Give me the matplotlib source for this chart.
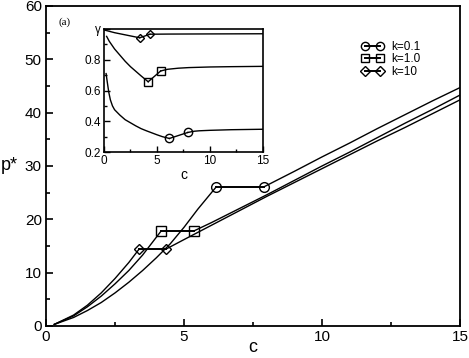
import matplotlib
matplotlib.use("Agg")
import matplotlib.pyplot as plt
from matplotlib.ticker import MultipleLocator

plt.rcParams['font.family'] = ['Liberation Sans', 'DejaVu Sans']

# ---- main panel: p* vs c ----
# k = 0.1
c01_lo = [0.3, 1.0, 1.5, 2.0, 2.5, 3.0, 3.5, 4.0, 4.5, 5.0, 5.5, 6.17]
p01_lo = [0.3, 1.6, 2.9, 4.4, 6.2, 8.2, 10.4, 12.8, 15.4, 18.5, 21.9, 26.1]
c01_hi = [7.9, 9.0, 10.0, 11.0, 12.0, 13.0, 14.0, 15.0]
p01_hi = [26.1, 29.0, 31.7, 34.3, 37.0, 39.6, 42.2, 44.7]
# k = 1.0
c1_lo = [0.3, 1.0, 1.5, 2.0, 2.5, 3.0, 3.5, 4.17]
p1_lo = [0.3, 1.9, 3.6, 5.6, 7.9, 10.4, 13.3, 17.8]
c1_hi = [5.35, 6.0, 7.0, 8.0, 9.0, 10.0, 11.0, 12.0, 13.0, 14.0, 15.0]
p1_hi = [17.8, 19.4, 22.0, 24.6, 27.3, 30.0, 32.6, 35.3, 38.0, 40.6, 43.3]
# k = 10
c10_lo = [0.3, 1.0, 1.5, 2.0, 2.5, 3.0, 3.37]
p10_lo = [0.3, 2.05, 3.9, 6.2, 8.9, 11.9, 14.4]
c10_hi = [4.34, 5.0, 6.0, 7.0, 8.0, 9.0, 10.0, 11.0, 12.0, 13.0, 14.0, 15.0]
p10_hi = [14.4, 16.2, 18.9, 21.6, 24.3, 26.9, 29.5, 32.1, 34.7, 37.2, 39.8, 42.4]

# ---- inset: gamma vs c ----
g01_c_lo = [0.2, 0.3, 0.45, 0.6, 0.8, 1.0, 1.5, 2.0, 2.5, 3.0, 3.5, 4.0, 4.5, 5.0, 5.5, 6.17]
g01_lo = [0.71, 0.66, 0.59, 0.54, 0.50, 0.475, 0.44, 0.41, 0.39, 0.37, 0.352, 0.338, 0.325, 0.312, 0.300, 0.288]
g01_c_hi = [7.9, 8.5, 9.0, 10.0, 12.0, 15.0]
g01_hi = [0.327, 0.335, 0.338, 0.341, 0.345, 0.348]

g1_c_lo = [0.25, 0.5, 1.0, 1.5, 2.0, 2.5, 3.0, 3.5, 4.17]
g1_lo = [0.952, 0.92, 0.87, 0.83, 0.79, 0.755, 0.725, 0.695, 0.657]
g1_c_hi = [5.35, 6.0, 7.0, 8.0, 10.0, 12.0, 15.0]
g1_hi = [0.727, 0.738, 0.745, 0.749, 0.753, 0.755, 0.757]

g10_c_lo = [0.0, 1.0, 2.0, 3.0, 3.37]
g10_lo = [0.994, 0.976, 0.962, 0.948, 0.943]
g10_c_hi = [4.34, 6.0, 10.0, 15.0]
g10_hi = [0.966, 0.967, 0.968, 0.969]

labels = ['k=0.1', 'k=1.0', 'k=10']
markers = ['o', 's', 'D']
msize = [7, 6.5, 5.5]

fig = plt.figure(figsize=(4.69, 3.58), dpi=100)
ax = fig.add_axes([0.0981, 0.0894, 0.8827, 0.8939])

main_sets = [(c01_lo, p01_lo, c01_hi, p01_hi),
             (c1_lo, p1_lo, c1_hi, p1_hi),
             (c10_lo, p10_lo, c10_hi, p10_hi)]
handles = []
for (clo, plo, chi, phi), m, ms, lab in zip(main_sets, markers, msize, labels):
    ax.plot(clo, plo, color='black', lw=1.0)
    ax.plot(chi, phi, color='black', lw=1.0)
    # jump between the two branches
    h, = ax.plot([clo[-1], chi[0]], [plo[-1], phi[0]], color='black', lw=1.4,
                 marker=m, ms=ms, mfc='none', mec='black', mew=1.0, label=lab)
    handles.append(h)

ax.set_xlim(0, 15)
ax.set_ylim(0, 60)
ax.xaxis.set_major_locator(MultipleLocator(5))
ax.xaxis.set_minor_locator(MultipleLocator(2.5))
ax.yaxis.set_major_locator(MultipleLocator(10))
ax.yaxis.set_minor_locator(MultipleLocator(5))
ax.tick_params(which='both', direction='in', top=False, right=False, labelsize=11, width=1.2)
ax.tick_params(which='major', length=5, pad=3)
ax.tick_params(which='minor', length=3)
for s in ax.spines.values():
    s.set_linewidth(1.3)
ax.set_xlabel('c', fontsize=13, va='center')
ax.xaxis.set_label_coords(0.5, -0.068)
ax.set_ylabel('p*', fontsize=13, rotation=0, va='center', ha='center')
ax.yaxis.set_label_coords(-0.088, 0.5)

leg = ax.legend(handles=handles, loc='upper left', bbox_to_anchor=(0.748, 0.91),
                frameon=False, numpoints=2, handlelength=1.9, handletextpad=0.6,
                labelspacing=0.05, fontsize=8.5, markerscale=0.85, borderpad=0)

fig.text(58 / 469, 1 - 22 / 358, '(a)', fontsize=8, family=['Liberation Serif'], va='center')

# ---- inset ----
ins = fig.add_axes([0.2217, 0.5754, 0.339, 0.3436])
inset_sets = [(g01_c_lo, g01_lo, g01_c_hi, g01_hi),
              (g1_c_lo, g1_lo, g1_c_hi, g1_hi),
              (g10_c_lo, g10_lo, g10_c_hi, g10_hi)]
for (clo, glo, chi, ghi), m, ms in zip(inset_sets, markers, [6, 5.5, 4.5]):
    ins.plot(clo, glo, color='black', lw=1.0)
    ins.plot(chi, ghi, color='black', lw=1.0)
    ins.plot([clo[-1], chi[0]], [glo[-1], ghi[0]], color='black', lw=1.0,
             marker=m, ms=ms, mfc='none', mec='black', mew=1.0)

ins.set_xlim(0, 15)
ins.set_ylim(0.2, 1.0)
ins.xaxis.set_major_locator(MultipleLocator(5))
ins.xaxis.set_minor_locator(MultipleLocator(2.5))
ins.set_yticks([0.2, 0.4, 0.6, 0.8, 1.0])
ins.set_yticklabels(['0.2', '0.4', '0.6', '0.8', 'γ'])
ins.yaxis.set_minor_locator(MultipleLocator(0.1))
ins.tick_params(which='both', direction='in', top=False, right=False, labelsize=8.5, width=1.0)
ins.tick_params(which='major', length=4, pad=2)
ins.tick_params(which='minor', length=2.5)
for s in ins.spines.values():
    s.set_linewidth(1.2)
ins.set_xlabel('c', fontsize=10, labelpad=1)

fig.savefig('out.png', dpi=100)
